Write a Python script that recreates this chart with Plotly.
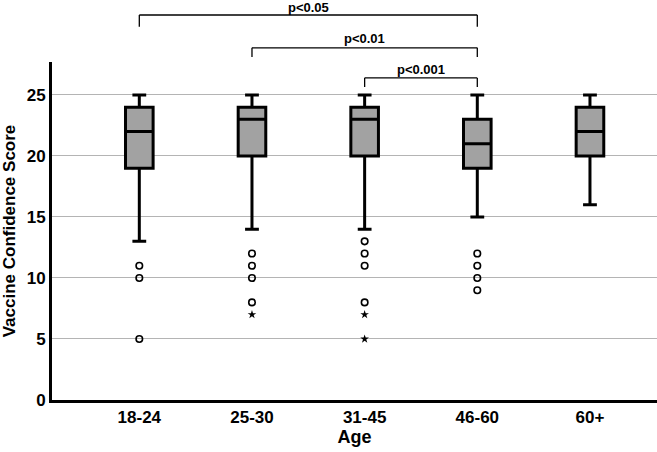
import plotly.graph_objects as go

# ---- data ----
ages = ["18-24", "25-30", "31-45", "46-60", "60+"]
q1 = [19, 20, 20, 19, 20]
median = [22, 23, 23, 21, 22]
q3 = [24, 24, 24, 23, 24]
lower_whisker = [13, 14, 14, 15, 16]
upper_whisker = [25, 25, 25, 25, 25]

outlier_x = ["18-24", "18-24", "18-24",
             "25-30", "25-30", "25-30", "25-30",
             "31-45", "31-45", "31-45", "31-45",
             "46-60", "46-60", "46-60", "46-60"]
outlier_y = [11, 10, 5,
             12, 11, 10, 8,
             13, 12, 11, 8,
             12, 11, 10, 9]
extreme_x = ["25-30", "31-45", "31-45"]
extreme_y = [7, 7, 5]

# significance brackets: (from group, to group, label)
comparisons = [("18-24", "46-60", "p<0.05"),
               ("25-30", "46-60", "p<0.01"),
               ("31-45", "46-60", "p<0.001")]

y_ticks = [0, 5, 10, 15, 20, 25]

FONT = "Liberation Sans, Arial, sans-serif"

fig = go.Figure()
fig.add_trace(go.Box(
    x=ages, q1=q1, median=median, q3=q3,
    lowerfence=lower_whisker, upperfence=upper_whisker,
    boxpoints=False, width=0.245, whiskerwidth=0.5,
    fillcolor="#a2a2a2", line=dict(color="black", width=3),
    showlegend=False, hoverinfo="skip"))
fig.add_trace(go.Scatter(
    x=outlier_x, y=outlier_y, mode="markers",
    marker=dict(symbol="circle-open", size=6.5, color="black", line=dict(width=1.6)),
    showlegend=False, cliponaxis=False))
fig.add_trace(go.Scatter(
    x=extreme_x, y=extreme_y, mode="markers",
    marker=dict(symbol="star", size=6.5, color="black", line=dict(width=0)),
    showlegend=False, cliponaxis=False))

# bracket layout (paper y positions of the bracket tops / legs / labels)
bracket_top = [1.139, 1.042, 0.953]
bracket_leg = [1.104, 1.015, 0.926]
label_y = [1.162, 1.071, 0.979]
for i, (a, b, lab) in enumerate(comparisons):
    ia, ib = ages.index(a), ages.index(b)
    lc = dict(color="black", width=1.3)
    fig.add_shape(type="line", xref="x", yref="paper", x0=ia, x1=ib,
                  y0=bracket_top[i], y1=bracket_top[i], line=lc)
    fig.add_shape(type="line", xref="x", yref="paper", x0=ia, x1=ia,
                  y0=bracket_top[i], y1=bracket_leg[i], line=lc)
    fig.add_shape(type="line", xref="x", yref="paper", x0=ib, x1=ib,
                  y0=bracket_top[i], y1=bracket_leg[i], line=lc)
    fig.add_annotation(x=(ia + ib) / 2, y=label_y[i], xref="x", yref="paper",
                       text=lab, showarrow=False, yanchor="middle",
                       font=dict(family=FONT, size=13, color="black", weight="bold"))

fig.update_layout(
    width=657, height=452,
    margin=dict(l=52, r=0, t=62, b=52),
    plot_bgcolor="white", paper_bgcolor="white",
    font=dict(family=FONT, color="black"),
    xaxis=dict(type="category", categoryarray=ages, range=[-0.775, 4.595],
               showline=True, linecolor="black", linewidth=3, ticks="",
               showgrid=False, zeroline=False,
               tickfont=dict(family=FONT, size=17, weight="bold"),
               title=dict(text="Age", font=dict(family=FONT, size=18, weight="bold"), standoff=4)),
    yaxis=dict(range=[0, 27.7], tickvals=y_ticks, ticks="",
               showline=True, linecolor="black", linewidth=3,
               showgrid=True, gridcolor="#b4b4b4", gridwidth=1.2, zeroline=False,
               tickfont=dict(family=FONT, size=17, weight="bold"),
               title=dict(text="Vaccine Confidence Score",
                          font=dict(family=FONT, size=17, weight="bold"), standoff=8)),
)

# remove the default 8px page margin so the 657x452 figure fills the window exactly
fig.write_html("out.html", config={"displayModeBar": False},
               post_script="document.body.style.margin='0';")
